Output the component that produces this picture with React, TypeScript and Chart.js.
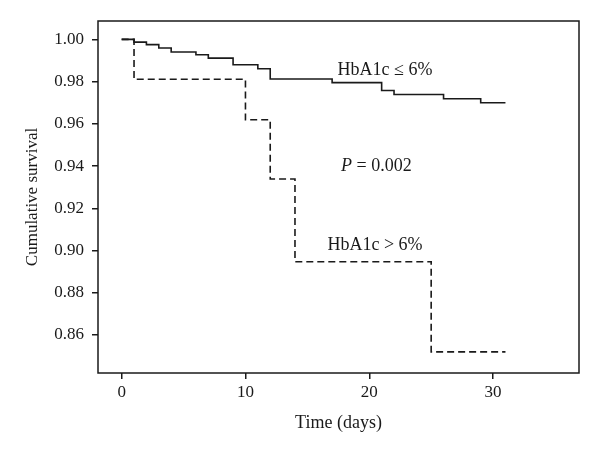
import React, { useEffect, useRef } from "react";
import { Chart, registerables } from "chart.js";

Chart.register(...registerables);

// Kaplan–Meier step points (time in days, cumulative survival)
const lowTimes = [0, 1, 2, 3, 4, 6, 7, 9, 11, 12, 17, 21, 22, 26, 29, 31];
const lowSurvival = [1.0, 0.9987, 0.9975, 0.9959, 0.994, 0.9927, 0.9911, 0.988, 0.9861, 0.9812, 0.9795, 0.9758, 0.9739, 0.9719, 0.97, 0.97];

const highTimes = [0, 1, 10, 12, 14, 25, 31];
const highSurvival = [1.0, 0.9811, 0.9619, 0.9339, 0.8947, 0.852, 0.852];

const xTicks = [0, 10, 20, 30];
const yTicks = [0.86, 0.88, 0.9, 0.92, 0.94, 0.96, 0.98, 1.0];

const X_MIN = -1.91;
const X_MAX = 36.94;
const Y_MIN = 0.842;
const Y_MAX = 1.0087;

const FONT = "'Liberation Serif', 'Times New Roman', serif";
const INK = "#1a1a1a";

// annotation anchors in data coordinates
const labelLow = { text: "HbA1c ≤ 6%", x: 21.27, y: 0.9855 };
const labelHigh = { text: "HbA1c > 6%", x: 20.46, y: 0.9026 };
const labelP = { italic: "P", rest: " = 0.002", x: 20.58, y: 0.9397 };

export default function App() {
  const ref = useRef<HTMLCanvasElement | null>(null);

  useEffect(() => {
    document.body.style.margin = "0";
    const canvas = ref.current;
    if (!canvas) return;

    const framePlugin = {
      id: "frame",
      afterDatasetsDraw(chart: any) {
        const { ctx, chartArea } = chart;
        ctx.save();
        ctx.strokeStyle = INK;
        ctx.lineWidth = 1.5;
        ctx.strokeRect(chartArea.left, chartArea.top, chartArea.right - chartArea.left, chartArea.bottom - chartArea.top);
        ctx.restore();
      },
      afterDraw(chart: any) {
        const { ctx } = chart;
        const xs = chart.scales.x;
        const ys = chart.scales.y;
        ctx.save();
        ctx.fillStyle = INK;
        ctx.textBaseline = "middle";
        ctx.textAlign = "center";
        ctx.font = `18px ${FONT}`;
        ctx.fillText(labelLow.text, xs.getPixelForValue(labelLow.x), ys.getPixelForValue(labelLow.y));
        ctx.fillText(labelHigh.text, xs.getPixelForValue(labelHigh.x), ys.getPixelForValue(labelHigh.y));
        // P = 0.002 with italic P
        const italicFont = `italic 18px ${FONT}`;
        const regFont = `18px ${FONT}`;
        ctx.font = italicFont;
        const w1 = ctx.measureText(labelP.italic).width;
        ctx.font = regFont;
        const w2 = ctx.measureText(labelP.rest).width;
        const cx = xs.getPixelForValue(labelP.x);
        const cy = ys.getPixelForValue(labelP.y);
        const start = cx - (w1 + w2) / 2;
        ctx.textAlign = "left";
        ctx.font = italicFont;
        ctx.fillText(labelP.italic, start, cy);
        ctx.font = regFont;
        ctx.fillText(labelP.rest, start + w1, cy);
        ctx.restore();
      },
    };

    const chart = new Chart(canvas, {
      type: "line",
      data: {
        datasets: [
          {
            label: "HbA1c ≤ 6%",
            data: lowTimes.map((t, i) => ({ x: t, y: lowSurvival[i] })),
            borderColor: INK,
            borderWidth: 1.6,
            stepped: true,
            pointRadius: 0,
            fill: false,
          },
          {
            label: "HbA1c > 6%",
            data: highTimes.map((t, i) => ({ x: t, y: highSurvival[i] })),
            borderColor: INK,
            borderWidth: 1.6,
            borderDash: [7, 4],
            stepped: true,
            pointRadius: 0,
            fill: false,
          },
        ],
      },
      options: {
        animation: false,
        responsive: false,
        maintainAspectRatio: false,
        layout: { padding: { left: 0, top: 21, right: 21, bottom: 0 } },
        plugins: { legend: { display: false }, tooltip: { enabled: false } },
        scales: {
          x: {
            type: "linear",
            min: X_MIN,
            max: X_MAX,
            afterBuildTicks: (s: any) => {
              s.ticks = xTicks.map((v) => ({ value: v }));
            },
            afterFit: (s: any) => {
              s.height = 83;
            },
            border: { display: false },
            grid: { display: true, drawOnChartArea: false, drawTicks: true, tickLength: 6, color: INK, lineWidth: 1.5 },
            ticks: { color: INK, font: { family: FONT, size: 17 }, padding: 3, maxRotation: 0, autoSkip: false },
            title: { display: true, text: "Time (days)", color: INK, font: { family: FONT, size: 18, lineHeight: 1.2 }, padding: { top: 0, bottom: 22 } },
          },
          y: {
            type: "linear",
            min: Y_MIN,
            max: Y_MAX,
            afterBuildTicks: (s: any) => {
              s.ticks = yTicks.map((v) => ({ value: v }));
            },
            afterFit: (s: any) => {
              s.width = 98;
            },
            border: { display: false },
            grid: { display: true, drawOnChartArea: false, drawTicks: true, tickLength: 6, color: INK, lineWidth: 1.5 },
            ticks: {
              color: INK,
              font: { family: FONT, size: 17 },
              padding: 8,
              autoSkip: false,
              callback: (v: any) => Number(v).toFixed(2),
            },
            title: { display: true, text: "Cumulative survival", color: INK, font: { family: FONT, size: 17, lineHeight: 1.2 }, padding: { top: 22, bottom: 0 } },
          },
        },
      },
      plugins: [framePlugin],
    });

    return () => chart.destroy();
  }, []);

  return (
    <div style={{ width: 600, height: 456, position: "relative", background: "#fff" }}>
      <canvas ref={ref} width={600} height={456} style={{ display: "block" }} />
    </div>
  );
}
